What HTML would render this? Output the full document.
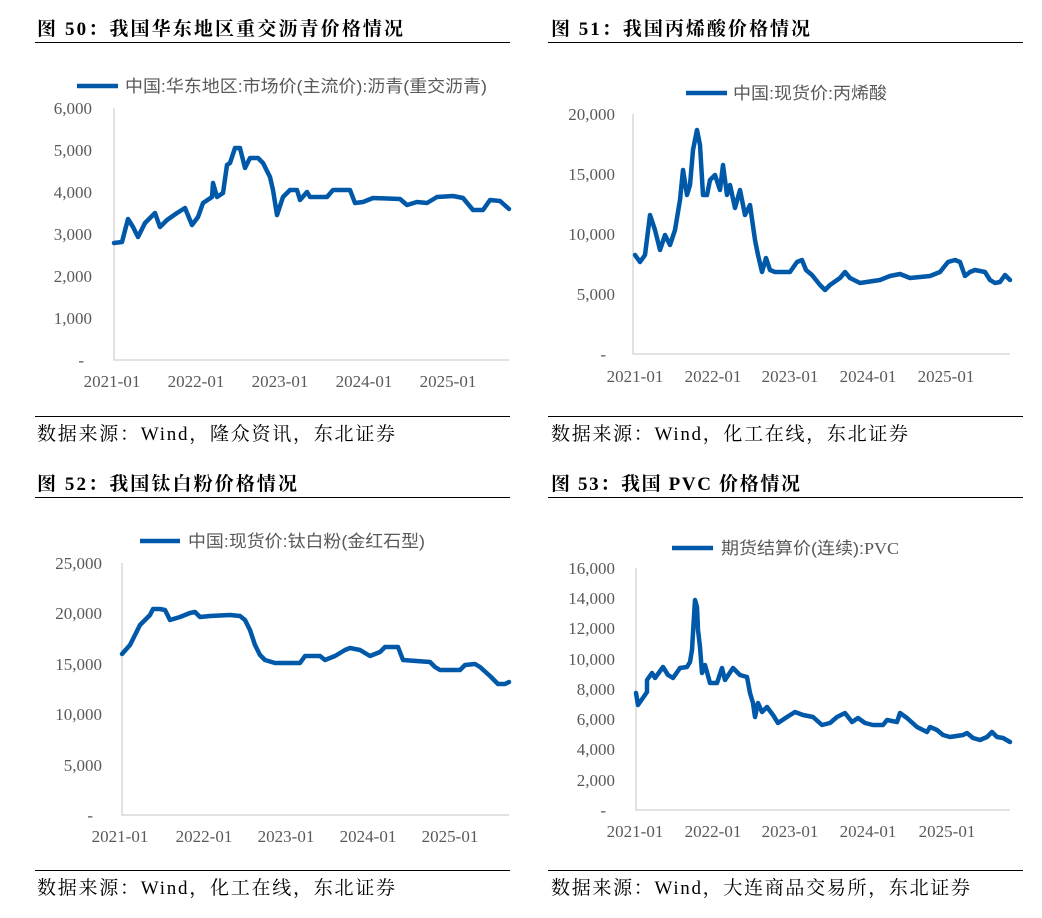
<!DOCTYPE html>
<html><head><meta charset="utf-8"><style>
body{margin:0;background:#fff;width:1042px;height:918px;overflow:hidden}
svg{display:block}
.t{font-family:"Liberation Serif","Noto Serif CJK SC",serif;font-weight:bold;font-size:19px;fill:#000}
.s{font-family:"Liberation Serif","Noto Serif CJK SC",serif;font-size:19px;fill:#000}
.a{font-family:"Liberation Serif",serif;font-size:17px;fill:#595959}
.l{font-family:"Liberation Sans","Noto Sans CJK SC",sans-serif;font-size:17px;fill:#595959}
.d{fill:none;stroke:#0058a8;stroke-width:4.5;stroke-linejoin:round;stroke-linecap:round}
.ax{stroke:#d9d9d9;stroke-width:1.5;fill:none}
</style></head><body>
<svg width="1042" height="918" viewBox="0 0 1042 918">
<g stroke="#000" stroke-width="1">
<line x1="35" y1="42.5" x2="510" y2="42.5"/><line x1="548" y1="42.5" x2="1023" y2="42.5"/>
<line x1="35" y1="416.5" x2="510" y2="416.5"/><line x1="548" y1="416.5" x2="1023" y2="416.5"/>
<line x1="35" y1="497.5" x2="510" y2="497.5"/><line x1="548" y1="497.5" x2="1023" y2="497.5"/>
<line x1="35" y1="870.5" x2="510" y2="870.5"/><line x1="548" y1="870.5" x2="1023" y2="870.5"/>
</g>
<text class="t" x="37" y="35" textLength="366" lengthAdjust="spacing">图 50：我国华东地区重交沥青价格情况</text>
<text class="t" x="551" y="35" textLength="259" lengthAdjust="spacing">图 51：我国丙烯酸价格情况</text>
<text class="t" x="37" y="490" textLength="260" lengthAdjust="spacing">图 52：我国钛白粉价格情况</text>
<text class="t" x="551" y="490" textLength="249" lengthAdjust="spacing">图 53：我国 PVC 价格情况</text>
<text class="s" x="37" y="440" textLength="358" lengthAdjust="spacing">数据来源：Wind，隆众资讯，东北证券</text>
<text class="s" x="551" y="440" textLength="357" lengthAdjust="spacing">数据来源：Wind，化工在线，东北证券</text>
<text class="s" x="37" y="894" textLength="358" lengthAdjust="spacing">数据来源：Wind，化工在线，东北证券</text>
<text class="s" x="551" y="894" textLength="419" lengthAdjust="spacing">数据来源：Wind，大连商品交易所，东北证券</text>

<line x1="77" y1="86" x2="118" y2="86" stroke="#0058a8" stroke-width="4.5"/>
<text class="l" x="125" y="92" textLength="362" lengthAdjust="spacingAndGlyphs">中国:华东地区:市场价(主流价):沥青(重交沥青)</text>
<path class="ax" d="M114 108V360H509"/>
<g class="a" text-anchor="end">
<text x="92" y="114">6,000</text><text x="92" y="156">5,000</text><text x="92" y="198">4,000</text><text x="92" y="240">3,000</text><text x="92" y="282">2,000</text><text x="92" y="324">1,000</text><text x="84" y="366">-</text></g>
<g class="a" text-anchor="middle"><text x="112" y="387">2021-01</text><text x="196" y="387">2022-01</text><text x="280" y="387">2023-01</text><text x="364" y="387">2024-01</text><text x="448" y="387">2025-01</text></g>
<polyline class="d" points="114,243 122,242 128,219 133,227 138,237 145,223 155,213 160,227 167,220 177,213 185,208 192,225 198,217 203,203 212,197 213,183 217,197 223,193 227,165 230,163 235,148 240,148 245,168 250,158 258,158 263,163 270,177 273,190 277,215 283,197 290,190 297,190 300,200 307,192 310,197 327,197 333,190 350,190 355,203 363,202 373,198 400,199 407,205 417,202 427,203 437,197 453,196 463,198 473,210 483,210 490,200 500,201 509,209"/>

<line x1="686" y1="93" x2="727" y2="93" stroke="#0058a8" stroke-width="4.5"/>
<text class="l" x="733" y="99" textLength="154" lengthAdjust="spacingAndGlyphs">中国:现货价:丙烯酸</text>
<path class="ax" d="M633 114V354H1010"/>
<g class="a" text-anchor="end">
<text x="615" y="120">20,000</text><text x="615" y="180">15,000</text><text x="615" y="240">10,000</text><text x="615" y="300">5,000</text><text x="606" y="360">-</text></g>
<g class="a" text-anchor="middle"><text x="635" y="382">2021-01</text><text x="713" y="382">2022-01</text><text x="790" y="382">2023-01</text><text x="868" y="382">2024-01</text><text x="946" y="382">2025-01</text></g>
<polyline class="d" points="635,255 640,262 645,255 650,215 655,230 660,250 665,235 670,245 675,230 680,200 683,170 687,195 690,185 693,150 697,130 700,145 703,195 707,195 710,180 715,175 720,190 723,165 727,195 730,185 735,208 740,190 745,215 750,205 755,240 758,255 762,272 766,258 770,270 775,272 790,272 797,262 802,260 806,270 812,275 820,285 825,290 830,285 840,278 845,272 850,278 860,283 880,280 890,276 900,274 910,278 930,276 940,272 948,262 955,260 960,262 965,276 970,272 975,270 985,272 990,280 995,283 1000,282 1005,275 1010,280"/>

<line x1="140" y1="541" x2="180" y2="541" stroke="#0058a8" stroke-width="4.5"/>
<text class="l" x="188" y="547" textLength="237" lengthAdjust="spacingAndGlyphs">中国:现货价:钛白粉(金红石型)</text>
<path class="ax" d="M122 563V815H509"/>
<g class="a" text-anchor="end">
<text x="102" y="569">25,000</text><text x="102" y="619">20,000</text><text x="102" y="670">15,000</text><text x="102" y="720">10,000</text><text x="102" y="771">5,000</text><text x="93" y="821">-</text></g>
<g class="a" text-anchor="middle"><text x="120" y="842">2021-01</text><text x="204" y="842">2022-01</text><text x="286" y="842">2023-01</text><text x="368" y="842">2024-01</text><text x="450" y="842">2025-01</text></g>
<polyline class="d" points="122,654 130,645 135,635 140,625 145,620 150,615 153,609 160,609 165,610 170,620 180,617 190,613 195,612 200,617 210,616 230,615 240,616 245,620 250,630 255,645 260,655 265,660 275,663 300,663 305,656 320,656 325,660 335,656 345,650 350,648 360,650 370,656 380,652 385,647 398,647 403,660 430,662 435,667 440,670 460,670 465,665 475,664 480,667 490,676 498,684 505,684 509,682"/>

<line x1="672" y1="548" x2="713" y2="548" stroke="#0058a8" stroke-width="4.5"/>
<text class="l" x="721" y="554" textLength="178" lengthAdjust="spacingAndGlyphs">期货结算价(连续):<tspan font-family="Liberation Serif">PVC</tspan></text>
<path class="ax" d="M636 568V810H1010"/>
<g class="a" text-anchor="end">
<text x="615" y="574">16,000</text><text x="615" y="604">14,000</text><text x="615" y="634">12,000</text><text x="615" y="665">10,000</text><text x="615" y="695">8,000</text><text x="615" y="725">6,000</text><text x="615" y="755">4,000</text><text x="615" y="786">2,000</text><text x="606" y="816">-</text></g>
<g class="a" text-anchor="middle"><text x="635" y="837">2021-01</text><text x="713" y="837">2022-01</text><text x="790" y="837">2023-01</text><text x="868" y="837">2024-01</text><text x="947" y="837">2025-01</text></g>
<polyline class="d" points="636,693 638,705 647,692 647,680 652,673 655,678 663,667 668,675 673,678 680,668 687,667 690,662 692,650 693,633 695,600 697,607 698,630 700,647 702,673 705,665 710,683 717,683 722,668 725,680 733,668 740,675 747,677 750,693 753,703 755,717 758,703 762,712 767,707 773,715 778,723 787,717 795,712 803,715 813,717 822,725 830,723 837,717 845,713 852,722 858,718 865,723 873,725 883,725 887,720 897,722 900,713 907,718 917,727 927,732 930,727 937,730 943,735 950,737 963,735 967,733 973,738 980,740 987,737 992,732 997,737 1003,738 1010,742"/>
</svg>
</body></html>
